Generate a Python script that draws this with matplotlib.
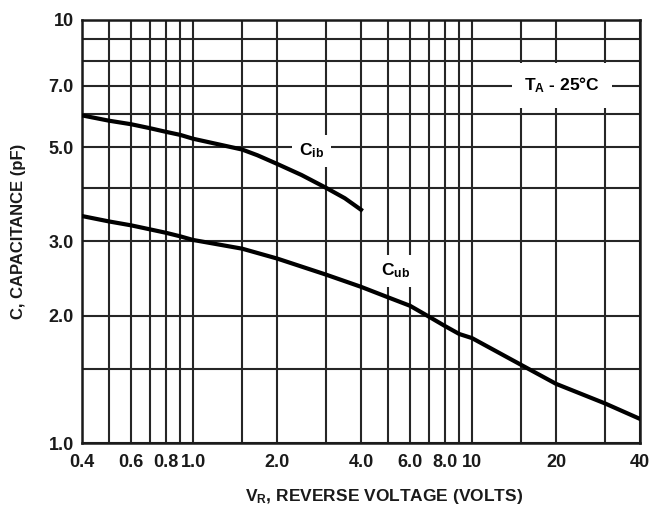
import matplotlib
matplotlib.use('Agg')
import matplotlib.pyplot as plt
from matplotlib.ticker import FixedLocator, FixedFormatter, NullLocator

plt.rcParams['font.family'] = ['Liberation Sans', 'DejaVu Sans']
plt.rcParams['font.weight'] = 'bold'
plt.rcParams['axes.labelweight'] = 'bold'
plt.rcParams['mathtext.fontset'] = 'custom'
plt.rcParams['mathtext.rm'] = 'Liberation Sans:bold'
plt.rcParams['mathtext.bf'] = 'Liberation Sans:bold'
plt.rcParams['mathtext.it'] = 'Liberation Sans:bold'

# datos
v_ib = [0.4, 0.5, 0.6, 0.7, 0.8, 0.9, 1.0, 1.5, 1.7, 2.0, 2.45, 3.0, 3.5, 4.0]
c_ib = [5.95, 5.78, 5.67, 5.55, 5.44, 5.35, 5.24, 4.94, 4.79, 4.57, 4.30, 4.01, 3.79, 3.56]

v_ub = [0.4, 0.5, 0.6, 0.7, 0.8, 0.9, 1.0, 1.5, 2.0, 3.0, 4.0, 5.0, 6.0, 7.0, 8.0, 9.0, 10, 15, 20, 30, 40]
c_ub = [3.44, 3.34, 3.27, 3.20, 3.14, 3.08, 3.02, 2.88, 2.73, 2.50, 2.34, 2.21, 2.11, 1.99,
        1.89, 1.81, 1.77, 1.53, 1.38, 1.24, 1.14]

x_grid = [0.4, 0.5, 0.6, 0.7, 0.8, 0.9, 1.0, 1.5, 2.0, 3.0, 4.0, 5.0, 6.0, 7.0, 8.0, 9.0, 10, 15, 20, 30, 40]
x_labels = ['0.4', '', '0.6', '', '0.8', '', '1.0', '', '2.0', '', '4.0', '', '6.0', '', '8.0', '', '10', '', '20', '', '40']
y_grid = [1.0, 1.5, 2.0, 3.0, 4.0, 5.0, 6.0, 7.0, 8.0, 9.0, 10]
y_labels = ['1.0', '', '2.0', '3.0', '', '5.0', '', '7.0', '', '', '10']

fig = plt.figure(figsize=(6.52, 5.13), dpi=100)
ax = fig.add_axes([82/652, 70/513, 558/652, 423/513])

ax.set_xscale('log')
ax.set_yscale('log')
ax.set_xlim(0.4, 40)
ax.set_ylim(1.0, 10)

ax.xaxis.set_major_locator(FixedLocator(x_grid))
ax.xaxis.set_major_formatter(FixedFormatter(x_labels))
ax.xaxis.set_minor_locator(NullLocator())
ax.yaxis.set_major_locator(FixedLocator(y_grid))
ax.yaxis.set_major_formatter(FixedFormatter(y_labels))
ax.yaxis.set_minor_locator(NullLocator())
ax.tick_params(length=0, labelsize=13, colors='#1a1a1a')
ax.tick_params(axis='x', pad=8)
ax.tick_params(axis='y', pad=6)
ax.grid(True, color='#262626', linewidth=1.5)
ax.set_axisbelow(True)
for s in ax.spines.values():
    s.set_color('#1a1a1a')
    s.set_linewidth(1.8)

ax.plot(v_ib, c_ib, color='black', linewidth=3, zorder=3, solid_joinstyle='round')
ax.plot(v_ub, c_ub, color='black', linewidth=3, zorder=3, solid_joinstyle='round')

box = dict(facecolor='white', edgecolor='none', pad=5)
ax.text(2.65, 4.9, r'C$_{\mathrm{ib}}$', fontsize=12.5, ha='center', va='center', bbox=box, zorder=2)
ax.text(5.3, 2.55, r'C$_{\mathrm{ub}}$', fontsize=12.5, ha='center', va='center', bbox=box, zorder=2)
ax.text(21, 7.0, r'T$_{\mathrm{A}}$ - 25°C', fontsize=12.5, ha='center', va='center',
        bbox=dict(facecolor='white', edgecolor='none', pad=9), zorder=2)

ax.set_xlabel(r'V$_{\mathrm{R}}$, REVERSE VOLTAGE (VOLTS)', fontsize=12.5, color='#1a1a1a')
ax.set_ylabel('C, CAPACITANCE (pF)', fontsize=12, color='#1a1a1a')
ax.xaxis.set_label_coords(0.541, -0.105)
ax.yaxis.set_label_coords(-0.1, 0.5)

fig.savefig('out.png', dpi=100)
